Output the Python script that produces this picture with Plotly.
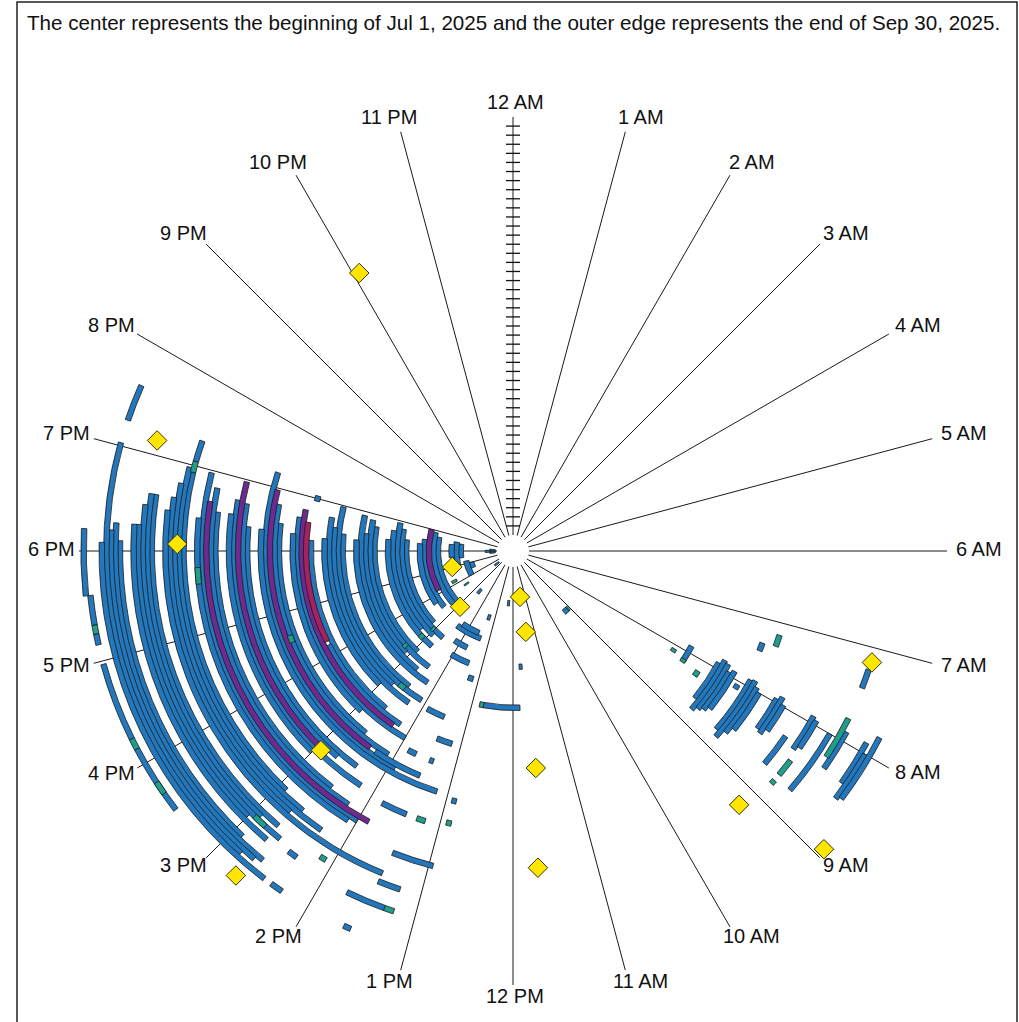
import math
import plotly.graph_objects as go

TITLE = ("The center represents the beginning of Jul 1, 2025 and the outer edge "
         "represents the end of Sep 30, 2025.")
HOUR_LABELS = ["12 AM", "1 AM", "2 AM", "3 AM", "4 AM", "5 AM", "6 AM", "7 AM",
               "8 AM", "9 AM", "10 AM", "11 AM", "12 PM", "1 PM", "2 PM", "3 PM",
               "4 PM", "5 PM", "6 PM", "7 PM", "8 PM", "9 PM", "10 PM", "11 PM"]
TOTAL_DAYS = 92
TICK_DAYS = list(range(2, 92, 2))

# ---- blue events: day index since Jul 1, start hour, end hour ----
blue_day = [1, 1, 2, 6, 7, 8, 9, 10, 8, 12, 8,
            13, 14, 16, 17, 17, 16,
            20, 21, 22, 23, 24, 23, 20,
            27, 28, 29, 30, 31, 26, 31,
            34, 35, 36, 37, 38, 36,
            41, 42, 44, 45, 41, 46, 46, 41,
            48, 49, 51, 52, 50,
            55, 56, 58, 59, 59, 53,
            62, 63, 65, 66,
            69, 69, 70, 71, 72, 73, 68,
            76, 77, 78, 79, 80, 75, 80, 79,
            83, 84, 85, 86, 87, 86, 87, 87,
            90, 90, 90, 90, 91,
            41, 55, 48, 49, 50, 51, 52, 54, 56, 57, 58, 59, 63, 64, 65,
            69, 72, 73, 77, 80, 85, 86, 87, 79, 14, 22]
blue_start = [15.3, 17.6, 17.8, 16.5, 16.0, 17.5, 17.0, 17.6, 14.55, 13.25, 12.25,
              15.0, 14.8, 15.4, 15.7, 13.35, 13.5,
              15.2, 14.6, 14.9, 15.3, 14.7, 13.43, 13.7,
              14.9, 14.4, 15.1, 14.6, 14.2, 13.15, 11.83,
              14.5, 14.1, 14.8, 14.3, 15.0, 13.5,
              14.6, 14.2, 14.0, 14.9, 13.17, 13.7, 13.38, 18.95,
              14.6, 14.1, 13.9, 13.17, 13.5,
              14.4, 14.7, 14.2, 15.0, 13.47, 12.85,
              14.5, 14.2, 14.0, 14.1,
              14.9, 19.05, 14.6, 14.3, 14.7, 13.47, 12.95,
              14.7, 14.9, 14.6, 15.0, 14.7, 13.23, 13.32, 14.35,
              14.9, 14.6, 14.67, 14.8, 14.48, 19.25, 13.55, 14.28,
              15.5, 16.25, 17.33, 17.15, 17.6,
              7.87, 7.35, 7.9, 7.82, 7.85, 7.95, 7.9, 8.05, 7.9, 7.88, 7.95, 8.0, 7.95, 7.9, 7.98,
              8.28, 7.92, 7.95, 8.0, 7.9, 7.9, 8.0, 7.8, 7.23, 9.12, 11.7]
blue_end = [15.6, 18.3, 18.1, 17.0, 17.2, 18.5, 18.6, 18.4, 14.75, 13.4, 12.4,
            18.7, 18.9, 18.5, 18.3, 14.45, 14.3,
            18.4, 18.75, 18.93, 18.65, 18.35, 14.05, 14.2,
            18.67, 18.83, 18.45, 18.9, 18.27, 13.3, 12.72,
            18.38, 18.97, 18.5, 18.7, 18.25, 13.9,
            18.2, 16.2, 18.6, 18.3, 13.47, 13.85, 13.45, 19.05,
            18.45, 18.75, 19.23, 18.33, 14.3,
            18.35, 18.67, 18.7, 18.5, 13.83, 12.92,
            18.5, 18.8, 18.97, 18.4,
            18.92, 19.3, 18.97, 18.77, 18.6, 18.45, 13.45,
            18.6, 18.6, 18.48, 18.27, 18.27, 13.48, 13.73, 14.45,
            18.1, 18.27, 18.2, 19.03, 18.08, 19.6, 13.62, 14.4,
            16.15, 16.97, 17.6, 17.25, 18.2,
            8.18, 7.47, 8.6, 8.77, 8.7, 8.65, 8.58, 8.12, 8.75, 8.83, 8.7, 8.6, 8.4, 8.43, 8.35,
            8.68, 8.35, 8.3, 8.72, 8.33, 8.35, 8.5, 8.47, 7.43, 9.35, 11.8]

# ---- purple / magenta / teal events ----
purple_day = [15, 43, 50, 57, 64]
purple_start = [16.13, 14.3, 14.4, 14.9, 13.87]
purple_end = [18.98, 18.75, 18.97, 18.97, 18.62]

magenta_day = [42]
magenta_start = [16.27]
magenta_end = [18.53]

teal_day = [1, 9, 11, 21, 24, 28, 31, 35, 49, 59, 58, 66, 69, 80, 76, 78,
            90, 90, 90, 38, 41, 45, 58, 73, 73, 79, 14]
teal_start = [17.85, 15.6, 16.1, 15.0, 15.05, 15.2, 12.72, 14.55, 16.5, 13.2, 12.85, 17.6, 18.92,
              13.22, 14.08, 14.8, 16.15, 17.25, 15.68, 8.08, 8.15, 8.2, 7.17, 8.47, 8.75, 7.77, 9.05]
teal_end = [18.0, 15.7, 16.25, 15.1, 15.2, 15.3, 12.82, 14.7, 16.62, 13.32, 12.92, 17.8, 19.05,
            13.32, 14.15, 14.95, 16.25, 17.33, 15.8, 8.15, 8.22, 8.3, 7.33, 8.67, 8.8, 8.22, 9.12]

# ---- point events (diamonds) ----
diamond_day = [66.4, 78.5, 70.4, 10.3, 13.4, 6.7, 14.5, 57.4, 44.5, 66.4, 90.4, 71.3, 91.3, 79.2]
diamond_hour = [22.07, 19.15, 18.08, 17.02, 14.9, 11.42, 11.4, 14.93, 11.6, 11.7, 14.7, 9.22, 8.92, 7.15]

BLUE = "#2378bd"
PURPLE = "#6e2b8f"
MAGENTA = "#a3225f"
TEAL = "#1f9e8c"
EDGE = "#1a1a1a"
FONT = "Liberation Sans, Arial, sans-serif"
ARC_THICK = 1.2  # radial thickness of an event arc, in days


def arc_trace(days, starts, ends, color):
    return go.Barpolar(
        r=[ARC_THICK] * len(days),
        base=[d - ARC_THICK / 2 for d in days],
        theta=[(s + e) / 2 * 15 for s, e in zip(starts, ends)],
        width=[(e - s) * 15 for s, e in zip(starts, ends)],
        marker=dict(color=color, line=dict(color=EDGE, width=0.8)),
        hoverinfo="skip",
    )


fig = go.Figure()
fig.add_trace(go.Scatterpolar(
    r=TICK_DAYS, theta=[0] * len(TICK_DAYS), mode="markers",
    marker=dict(symbol="line-ew", size=10, line=dict(color="#111", width=1.3)),
    hoverinfo="skip"))
fig.add_trace(arc_trace(blue_day, blue_start, blue_end, BLUE))
fig.add_trace(arc_trace(purple_day, purple_start, purple_end, PURPLE))
fig.add_trace(arc_trace(magenta_day, magenta_start, magenta_end, MAGENTA))
fig.add_trace(arc_trace(teal_day, teal_start, teal_end, TEAL))
fig.add_trace(go.Scatterpolar(
    r=diamond_day, theta=[h * 15 for h in diamond_hour], mode="markers",
    marker=dict(symbol="diamond", size=15, color="#ffe500",
                line=dict(color="#333300", width=1)),
    hoverinfo="skip"))

W, H = 1019, 1022
CX, CY, R = 513, 551, 434

# hour labels placed just beyond the end of each spoke
annotations = []
for i, lab in enumerate(HOUR_LABELS):
    th = math.radians(i * 15)
    s, c = math.sin(th), math.cos(th)
    if abs(s) < 1e-9:
        s = 0.0
    px = CX + R * s + 30 * math.copysign(abs(s) ** 0.6, s) + 2
    py = CY - R * c - 13 * c - 2
    annotations.append(dict(text=lab, x=px / W, y=1 - py / H, xref="paper", yref="paper",
                            xanchor="center", yanchor="middle", showarrow=False,
                            font=dict(family=FONT, size=20, color="#111")))
annotations.append(dict(text=TITLE, x=25 / W, y=1 - 22 / H, xref="paper", yref="paper",
                        xanchor="left", yanchor="middle", showarrow=False,
                        font=dict(family=FONT, size=20.6, color="#111")))

fig.update_layout(
    width=W, height=H,
    margin=dict(l=0, r=0, t=0, b=0),
    paper_bgcolor="white",
    showlegend=False,
    polar=dict(
        domain=dict(x=[(CX - R) / W, (CX + R) / W],
                    y=[(H - CY - R) / H, (H - CY + R) / H]),
        hole=16 / R,
        bgcolor="white",
        barmode="overlay",
        radialaxis=dict(range=[0, TOTAL_DAYS], showgrid=False, showline=False,
                        showticklabels=False, ticks="", layer="below traces"),
        angularaxis=dict(rotation=90, direction="clockwise", tickmode="array",
                         tickvals=[i * 15 for i in range(24)], ticktext=HOUR_LABELS,
                         showticklabels=False,
                         showgrid=True, gridcolor="#1a1a1a", gridwidth=1,
                         showline=False, ticks="", layer="below traces"),
    ),
    annotations=annotations,
    shapes=[dict(type="rect", xref="paper", yref="paper",
                 x0=17 / W, x1=1017 / W, y0=-0.05, y1=1 - 2 / H,
                 line=dict(color="#222", width=1.5), fillcolor="rgba(0,0,0,0)")],
)

fig.write_html("out.html", config={"displayModeBar": False},
               post_script="document.body.style.margin='0';document.body.style.overflow='hidden';")
